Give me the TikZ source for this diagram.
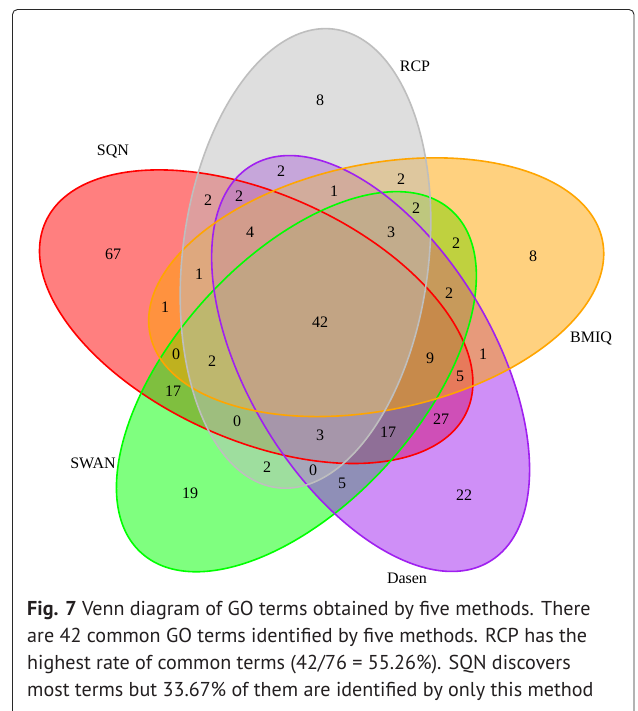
\documentclass[tikz,border=0pt]{standalone}
\usepackage{fontspec}
\setmainfont{Liberation Serif}
\newfontfamily\capfont{PT Sans}
\definecolor{vred}{RGB}{255,0,0}
\definecolor{vgreen}{RGB}{0,255,0}
\definecolor{vpurple}{RGB}{160,32,240}
\definecolor{vorange}{RGB}{255,165,0}
\definecolor{vgray}{RGB}{190,190,190}
\definecolor{framec}{RGB}{40,40,40}
\definecolor{captc}{RGB}{35,31,32}
\begin{document}
\begin{tikzpicture}[x=1pt,y=-1pt,
  lab/.style={font=\fontsize{16}{18}\selectfont, inner sep=0pt},
  captext/.style={font=\capfont\fontsize{20.1}{24}\selectfont, text=captc, inner sep=0pt, anchor=base west},
  vfill/.style={fill opacity=0.5},
  vline/.style={line width=1.6pt},
  ellred/.style={rotate around={-24.2:(256.2,316.7)}},
  ellgreen/.style={rotate around={47.8:(296.4,381.7)}},
  ellpurple/.style={rotate around={-59:(370.6,363.5)}},
  ellorange/.style={rotate around={11.8:(376.2,287.2)}},
  ellgray/.style={rotate around={83:(305.5,258.4)}}]
\useasboundingbox (0,0) rectangle (637,711);
\fill[white] (0,0) rectangle (637,711);
% frame
\draw[framec, line width=0.9pt, rounded corners=5pt] (12.5,730) -- (12.5,9.5) -- (634,9.5) -- (634,730);
% fills
\fill[vred, vfill, ellred] (256.2,316.7) ellipse [x radius=231pt, y radius=123pt];
\fill[vgreen, vfill, ellgreen] (296.4,381.7) ellipse [x radius=231pt, y radius=123pt];
\fill[vpurple, vfill, ellpurple] (370.6,363.5) ellipse [x radius=231pt, y radius=123pt];
\fill[vorange, vfill, ellorange] (376.2,287.2) ellipse [x radius=231pt, y radius=123pt];
\fill[vgray, vfill, ellgray] (305.5,258.4) ellipse [x radius=231pt, y radius=123pt];
% outlines
\draw[vred, vline, ellred] (256.2,316.7) ellipse [x radius=231pt, y radius=123pt];
\draw[vgreen, vline, ellgreen] (296.4,381.7) ellipse [x radius=231pt, y radius=123pt];
\draw[vpurple, vline, ellpurple] (370.6,363.5) ellipse [x radius=231pt, y radius=123pt];
\draw[vorange, vline, ellorange] (376.2,287.2) ellipse [x radius=231pt, y radius=123pt];
\draw[vgray, vline, ellgray] (305.5,258.4) ellipse [x radius=231pt, y radius=123pt];
% set names
\node[lab] (nSQN) at (113,152) {SQN};
\node[lab] (nRCP) at (415,66) {RCP};
\node[lab] (nBMIQ) at (591,338) {BMIQ};
\node[lab] (nSWAN) at (93,463) {SWAN};
\node[lab] (nDasen) at (407,578) {Dasen};
% counts
\node[lab] (c1) at (320,100) {8};
\node[lab] (c2) at (113,254) {67};
\node[lab] (c3) at (533,256) {8};
\node[lab] (c4) at (190,493) {19};
\node[lab] (c5) at (464,495) {22};
\node[lab] (c6) at (281,171) {2};
\node[lab] (c7) at (334,191) {1};
\node[lab] (c8) at (401,179) {2};
\node[lab] (c9) at (208,200) {2};
\node[lab] (c10) at (239,196) {2};
\node[lab] (c11) at (416,208) {2};
\node[lab] (c12) at (250,232) {4};
\node[lab] (c13) at (391,232) {3};
\node[lab] (c14) at (456,243) {2};
\node[lab] (c15) at (199,274) {1};
\node[lab] (c16) at (449,293) {2};
\node[lab] (c17) at (165,307) {1};
\node[lab] (c18) at (320,322) {42};
\node[lab] (c19) at (176,354) {0};
\node[lab] (c20) at (212,361) {2};
\node[lab] (c21) at (430,358) {9};
\node[lab] (c22) at (483,354) {1};
\node[lab] (c23) at (460,376) {5};
\node[lab] (c24) at (173,391) {17};
\node[lab] (c25) at (237,421) {0};
\node[lab] (c26) at (320,435) {3};
\node[lab] (c27) at (388,432) {17};
\node[lab] (c28) at (441,419) {27};
\node[lab] (c29) at (267,467) {2};
\node[lab] (c30) at (313,470) {0};
\node[lab] (c31) at (342,483) {5};
% caption
\node[captext] (cap1) at (27,615) {\textbf{Fig. 7} Venn diagram of GO terms obtained by five methods. There};
\node[captext] (cap2) at (27,642) {are 42 common GO terms identified by five methods. RCP has the};
\node[captext] (cap3) at (27,669) {highest rate of common terms (42/76 = 55.26\%). SQN discovers};
\node[captext] (cap4) at (27,696) {most terms but 33.67\% of them are identified by only this method};
\end{tikzpicture}
\end{document}
